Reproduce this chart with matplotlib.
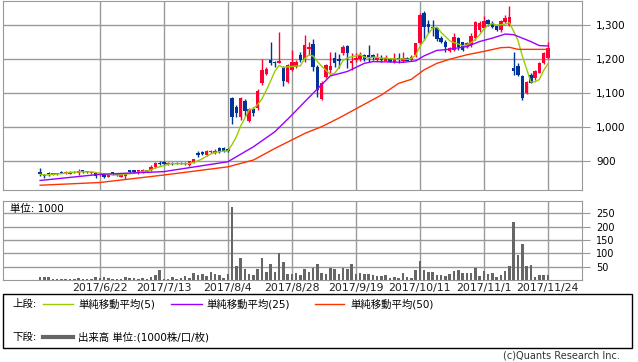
import matplotlib
matplotlib.use("Agg")
import matplotlib.pyplot as plt
import numpy as np
import pandas as pd
from matplotlib.patches import Rectangle
from matplotlib.lines import Line2D

plt.rcParams['font.family'] = ['DejaVu Sans', 'Noto Sans CJK JP']

# date ticks (trading-day index)
tick_pos = [14, 29, 44, 59, 74, 89, 104, 119]
tick_dates = ['2017/6/22', '2017/7/13', '2017/8/4', '2017/8/28',
              '2017/9/19', '2017/10/11', '2017/11/1', '2017/11/24']

opens = [869, 859, 864, 862, 861, 868, 866, 863, 868, 864,
         873, 870, 864, 864, 859, 861, 854, 867, 861, 854,
         855, 873, 873, 864, 869, 871, 873, 883, 895, 897,
         892, 894, 895, 895, 894, 888, 896, 925, 927, 918,
         926, 925, 937, 938, 935, 1084, 1058, 1028, 1075, 1019,
         1052, 1056, 1128, 1156, 1196, 1192, 1188, 1172, 1133, 1166,
         1177, 1212, 1197, 1229, 1243, 1177, 1081, 1148, 1168, 1202,
         1199, 1216, 1238, 1187, 1196, 1199, 1212, 1211, 1210, 1197,
         1202, 1195, 1199, 1192, 1202, 1195, 1202, 1197, 1212, 1246,
         1334, 1303, 1294, 1290, 1261, 1251, 1222, 1226, 1261, 1251,
         1236, 1241, 1261, 1285, 1290, 1313, 1305, 1297, 1285, 1307,
         1300, 1172, 1179, 1150, 1099, 1153, 1143, 1160, 1187, 1202]
highs = [879, 861, 869, 866, 866, 870, 870, 870, 870, 877,
         875, 872, 870, 866, 865, 863, 862, 869, 863, 866,
         866, 875, 874, 875, 878, 874, 888, 897, 901, 899,
         896, 897, 898, 897, 896, 901, 907, 929, 930, 932,
         933, 934, 940, 942, 937, 1087, 1065, 1089, 1081, 1056,
         1060, 1111, 1199, 1177, 1251, 1195, 1280, 1178, 1186, 1226,
         1196, 1219, 1270, 1250, 1258, 1182, 1135, 1186, 1221, 1221,
         1215, 1241, 1241, 1217, 1218, 1221, 1215, 1241, 1214, 1216,
         1212, 1210, 1203, 1217, 1216, 1219, 1207, 1210, 1248, 1334,
         1342, 1315, 1315, 1295, 1266, 1256, 1236, 1275, 1264, 1251,
         1250, 1275, 1310, 1310, 1326, 1318, 1310, 1300, 1313, 1329,
         1356, 1221, 1187, 1153, 1135, 1160, 1167, 1192, 1221, 1251]
lows = [857, 849, 857, 859, 859, 864, 863, 861, 864, 859,
        865, 866, 862, 849, 856, 849, 852, 859, 856, 852,
        847, 864, 864, 862, 866, 869, 871, 881, 889, 889,
        889, 889, 890, 890, 889, 885, 893, 913, 918, 915,
        924, 922, 925, 928, 928, 1009, 1030, 1021, 1033, 1016,
        1032, 1050, 1123, 1153, 1182, 1176, 1187, 1120, 1130, 1163,
        1174, 1190, 1190, 1212, 1163, 1089, 1079, 1145, 1158, 1177,
        1172, 1212, 1172, 1168, 1192, 1195, 1195, 1192, 1196, 1193,
        1192, 1193, 1190, 1187, 1189, 1192, 1194, 1194, 1207, 1241,
        1256, 1275, 1266, 1254, 1248, 1221, 1219, 1224, 1226, 1224,
        1232, 1236, 1256, 1280, 1287, 1298, 1290, 1283, 1280, 1305,
        1297, 1153, 1150, 1079, 1097, 1128, 1138, 1158, 1185, 1199]
closes = [861, 857, 861, 865, 865, 866, 869, 869, 866, 871,
          867, 868, 869, 857, 862, 854, 861, 861, 858, 864,
          864, 867, 867, 873, 875, 872, 883, 895, 891, 891,
          894, 891, 892, 892, 891, 899, 905, 917, 920, 930,
          930, 929, 928, 930, 930, 1028, 1042, 1085, 1047, 1052,
          1042, 1107, 1166, 1170, 1188, 1187, 1193, 1135, 1182, 1192,
          1192, 1197, 1241, 1236, 1176, 1110, 1128, 1182, 1178, 1189,
          1194, 1236, 1216, 1195, 1204, 1212, 1199, 1205, 1204, 1204,
          1197, 1204, 1192, 1204, 1197, 1204, 1195, 1207, 1246, 1329,
          1295, 1293, 1290, 1258, 1251, 1236, 1231, 1264, 1236, 1226,
          1246, 1268, 1308, 1305, 1310, 1303, 1293, 1285, 1310, 1320,
          1324, 1163, 1153, 1084, 1133, 1130, 1163, 1187, 1217, 1231]
volumes = [11, 11, 11, 5, 4, 4, 4, 3, 3, 7,
           5, 4, 3, 11, 9, 11, 7, 3, 4, 3,
           11, 6, 9, 3, 7, 4, 11, 19, 37, 4,
           5, 11, 3, 9, 15, 9, 25, 19, 22, 16,
           29, 21, 19, 9, 22, 275, 52, 84, 41, 24,
           19, 41, 84, 30, 60, 30, 100, 67, 22, 24,
           26, 19, 41, 30, 44, 60, 25, 22, 46, 41,
           22, 46, 41, 60, 22, 26, 22, 22, 19, 14,
           15, 19, 9, 12, 6, 26, 11, 9, 37, 71,
           37, 29, 29, 19, 19, 16, 21, 34, 37, 28,
           28, 28, 46, 15, 34, 22, 26, 11, 19, 34,
           52, 219, 94, 135, 52, 56, 12, 19, 19, 19]

# 25 / 50 day averages
ma_pos = [0, 14, 29, 44, 50, 55, 59, 62, 65, 68, 72, 76, 78, 85, 88, 90,
          93, 95, 100, 103, 106, 109, 111, 113, 115, 117, 119]
ma25 = [843, 861, 869, 898, 942, 986, 1035, 1074, 1112, 1150, 1163, 1187, 1192,
        1190, 1194, 1209, 1225, 1227, 1236, 1251, 1261, 1273, 1271, 1261, 1251,
        1239, 1238]
ma50_pos = [0, 14, 29, 44, 50, 55, 59, 62, 66, 70, 75, 80, 84, 87, 90, 93, 96,
            100, 104, 108, 110, 112, 116, 119]
ma50 = [829, 837, 859, 883, 903, 937, 962, 981, 1001, 1026, 1060, 1094, 1128,
        1140, 1168, 1187, 1199, 1212, 1222, 1233, 1234, 1228, 1228, 1228]

x = np.arange(len(closes))
o = np.array(opens)
c = np.array(closes)
up = c >= o
colors = np.where(up, '#ff0033', '#003399')
ma5 = pd.Series(closes).rolling(5, min_periods=1).mean()

W, H = 638, 362
fig = plt.figure(figsize=(W / 100, H / 100), dpi=100)
ax = fig.add_axes([3 / W, 1 - 190 / H, 579 / W, 189 / H])
axv = fig.add_axes([3 / W, 1 - 280 / H, 579 / W, 79 / H], sharex=ax)

grid = '#999999'
for a in (ax, axv):
    a.set_axisbelow(True)
    a.grid(True, color=grid, lw=1)
    for s in a.spines.values():
        s.set_color(grid)
    a.yaxis.tick_right()
    a.tick_params(axis='y', length=6, color=grid, pad=4)
    a.tick_params(axis='x', length=0)

# candles
ax.vlines(x, lows, highs, colors=colors, lw=1)
ax.bar(x, np.maximum(np.abs(c - o), 2), bottom=np.minimum(o, c), width=0.8,
       color=colors, lw=0)
ax.plot(x, ma5, color='#99cc00', lw=1)
ax.plot(ma_pos, ma25, color='#9900ff', lw=1)
ax.plot(ma50_pos, ma50, color='#ff3300', lw=1)

ax.set_xlim(-8.7, 127.0)
ax.set_ylim(815, 1370)
ax.set_yticks([900, 1000, 1100, 1200, 1300])
ax.set_yticklabels(['900', '1,000', '1,100', '1,200', '1,300'], fontsize=7.5)
ax.set_xticks(tick_pos)
ax.tick_params(axis='x', labelbottom=False)

# volume
axv.bar(x, volumes, width=0.6, color='#666666', lw=0)
axv.set_ylim(0, 296)
axv.set_yticks([50, 100, 150, 200, 250])
axv.set_yticklabels(['50', '100', '150', '200', '250'], fontsize=7)
axv.set_xticklabels(tick_dates, fontsize=7.8, color='#222222')
axv.tick_params(axis='x', pad=2)
axv.text(0.012, 0.9, '単位: 1000', transform=axv.transAxes, fontsize=7.5,
         va='center', ha='left')

# legend box
fig.add_artist(Rectangle((3 / W, 1 - 348 / H), 629 / W, 54 / H,
                         transform=fig.transFigure, fill=False,
                         edgecolor='black', lw=1))
y1 = 1 - 304 / H
y2 = 1 - 337 / H
fig.text(12 / W, y1, '上段:', fontsize=7.5, va='center')
fig.text(12 / W, y2, '下段:', fontsize=7.5, va='center')
items = [(43, 73, '#99cc00', '単純移動平均(5)', 78),
         (171, 202, '#9900ff', '単純移動平均(25)', 206),
         (315, 344, '#ff3300', '単純移動平均(50)', 350)]
for x0, x1, col, label, tx in items:
    fig.add_artist(Line2D([x0 / W, x1 / W], [y1, y1], color=col, lw=1,
                          transform=fig.transFigure))
    fig.text(tx / W, y1, label, fontsize=7.5, va='center')
fig.add_artist(Line2D([43 / W, 73 / W], [y2, y2], color='#666666', lw=3,
                      transform=fig.transFigure))
fig.text(78 / W, y2, '出来高 単位:(1000株/口/枚)', fontsize=7.5, va='center')

fig.text(620 / W, 1 - 356 / H, '(c)Quants Research Inc.', fontsize=7,
         ha='right', va='center', color='#333333')

fig.savefig('out.png', dpi=100)
